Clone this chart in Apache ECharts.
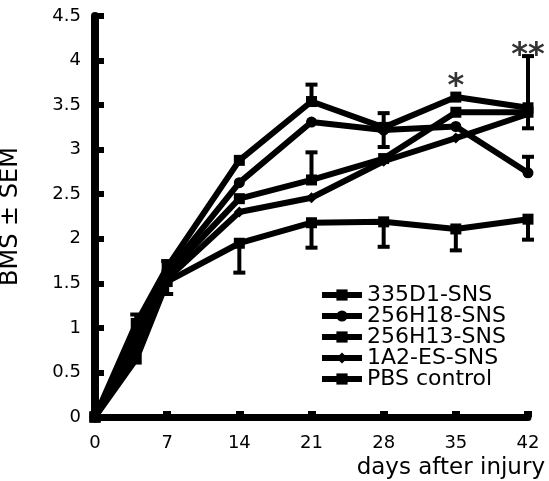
<!DOCTYPE html>
<html>
<head>
<meta charset="utf-8">
<script src="https://cdn.jsdelivr.net/npm/echarts@6/dist/echarts.min.js"></script>
<style>html,body{margin:0;padding:0;background:#fff}#c{width:549px;height:481px}</style>
</head>
<body>
<div id="c"></div>
<script>
var days = [0, 4, 7, 14, 21, 28, 35, 42];
var xTicks = [0, 7, 14, 21, 28, 35, 42];
var seriesNames = ['335D1-SNS', '256H18-SNS', '256H13-SNS', '1A2-ES-SNS', 'PBS control'];
var s335D1 = [0, 1.05, 1.68, 2.88, 3.54, 3.25, 3.59, 3.47];
var s256H18 = [0, 0.95, 1.62, 2.63, 3.31, 3.22, 3.26, 2.74];
var s256H13 = [0, 0.85, 1.60, 2.45, 2.66, 2.90, 3.42, 3.42];
var s1A2 = [0, 0.75, 1.55, 2.30, 2.46, 2.87, 3.13, 3.40];
var sPBS = [0, 0.65, 1.52, 1.95, 2.18, 2.19, 2.11, 2.22];
// error bars: [day, from (mean), to (mean ± SEM)]
var errorBars = [
  [4, 1.05, 1.15], [7, 1.68, 1.75], [7, 1.52, 1.38],
  [14, 1.95, 1.62],
  [21, 3.54, 3.73], [21, 2.66, 2.97], [21, 2.18, 1.90],
  [28, 3.25, 3.41], [28, 3.22, 3.03], [28, 2.19, 1.91],
  [35, 2.11, 1.87],
  [42, 3.47, 4.05], [42, 3.42, 3.24], [42, 2.74, 2.92], [42, 2.22, 1.99]
];
var annotations = [[35, 3.80, '*'], [42, 4.14, '**']];

var allValues = [s335D1, s256H18, s256H13, s1A2, sPBS];
var symbols = ['rect', 'circle', 'rect', 'diamond', 'rect'];
var FONT = 'DejaVu Sans';

var lineSeries = seriesNames.map(function (n, i) {
  return {
    name: n, type: 'line',
    data: days.map(function (d, j) { return [d, allValues[i][j]]; }),
    symbol: symbols[i], symbolSize: 11,
    lineStyle: { color: '#000', width: 6 },
    itemStyle: { color: '#000' },
    z: 3
  };
});

var option = {
  animation: false,
  backgroundColor: '#fff',
  grid: { left: 95, right: 21, top: 16, bottom: 64, containLabel: false, outerBoundsMode: 'none' },
  xAxis: {
    type: 'value', min: 0, max: 42, interval: 7,
    name: 'days after injury', nameLocation: 'end', nameGap: 17,
    nameTextStyle: { fontFamily: FONT, fontSize: 23, color: '#000', align: 'right', verticalAlign: 'top', padding: [40, 0, 0, 0] },
    axisLine: { lineStyle: { color: '#000', width: 7 } },
    axisTick: { inside: true, length: 6, lineStyle: { color: '#000', width: 8 } },
    axisLabel: { fontFamily: FONT, fontSize: 18, color: '#000', margin: 17 },
    splitLine: { show: false }
  },
  yAxis: {
    type: 'value', min: 0, max: 4.5, interval: 0.5,
    name: 'BMS \u00b1 SEM', nameLocation: 'middle', nameGap: 72,
    nameTextStyle: { fontFamily: FONT, fontSize: 24, color: '#000' },
    axisLine: { lineStyle: { color: '#000', width: 8 } },
    axisTick: { inside: true, length: 9, lineStyle: { color: '#000', width: 6 } },
    axisLabel: { fontFamily: FONT, fontSize: 18, color: '#000', margin: 14 },
    splitLine: { show: false }
  },
  legend: {
    data: seriesNames, orient: 'vertical', left: 314, top: 279,
    itemWidth: 40, itemHeight: 14, itemGap: -1,
    lineStyle: { width: 6, color: '#000' },
    itemStyle: { color: '#000' },
    textStyle: { fontFamily: FONT, fontSize: 22, color: '#000', lineHeight: 20 }
  },
  series: lineSeries.concat([
    {
      type: 'custom', name: 'errors', z: 4, silent: true,
      data: errorBars,
      renderItem: function (params, api) {
        var x = api.value(0), a = api.value(1), b = api.value(2);
        var p1 = api.coord([x, a]), p2 = api.coord([x, b]);
        return { type: 'group', children: [
          { type: 'line', shape: { x1: p1[0], y1: p1[1], x2: p2[0], y2: p2[1] }, style: { stroke: '#000', lineWidth: 4 } },
          { type: 'line', shape: { x1: p2[0] - 6, y1: p2[1], x2: p2[0] + 6, y2: p2[1] }, style: { stroke: '#000', lineWidth: 4 } }
        ] };
      }
    },
    {
      type: 'scatter', name: 'stars', silent: true, symbolSize: 0,
      data: annotations.map(function (a) { return { value: [a[0], a[1]], label: { formatter: a[2] } }; }),
      label: { show: true, position: 'inside', fontFamily: FONT, fontSize: 32, fontWeight: 'bold', color: '#000', offset: [0, 8] }
    }
  ])
};
var chart = echarts.init(document.getElementById('c'), null, { renderer: 'canvas' });
chart.setOption(option);
</script>
</body>
</html>
